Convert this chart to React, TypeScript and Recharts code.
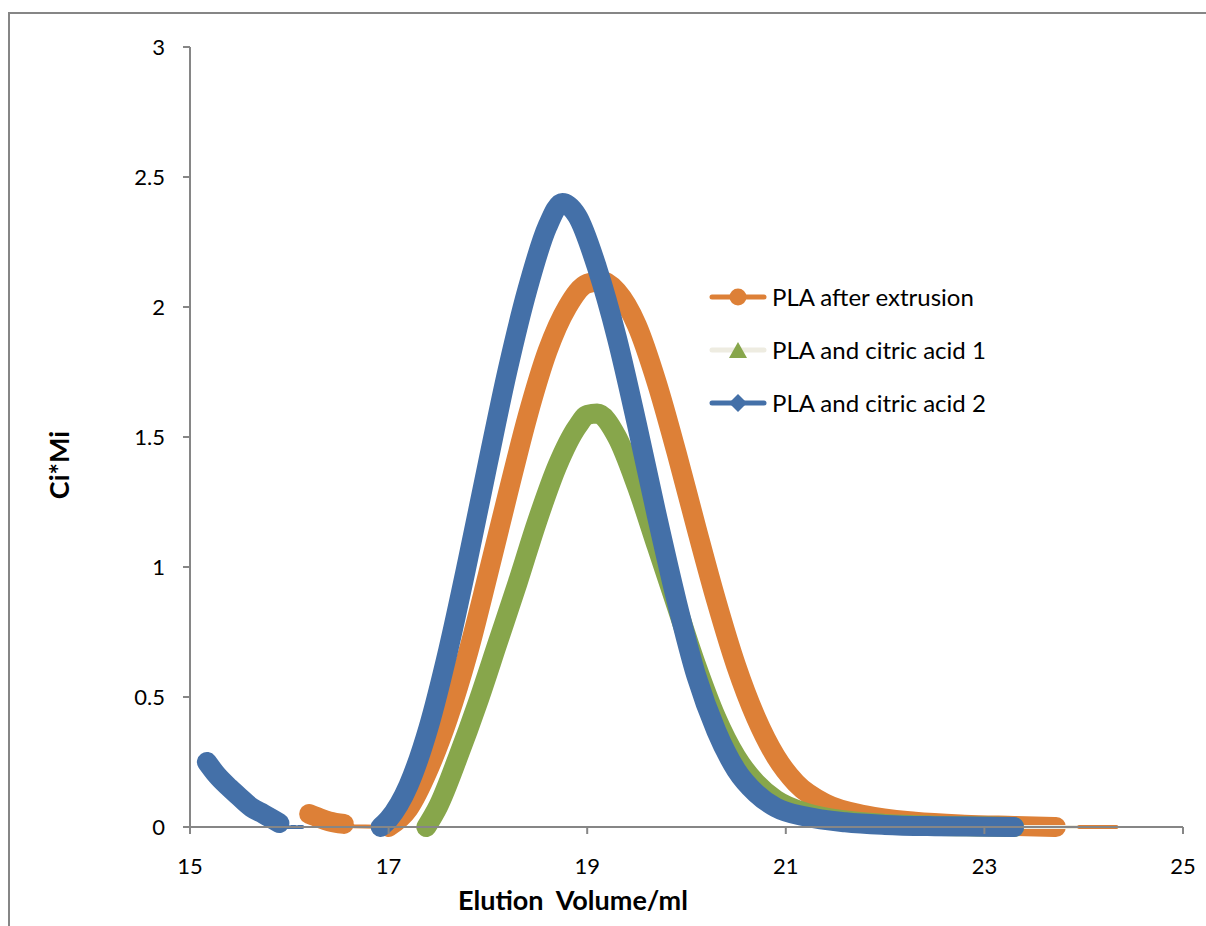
import { LineChart, Line, XAxis, YAxis } from 'recharts';

// elution volume (ml) / Ci*Mi readings
const orangeLow = [
  { x: 16.2, y: 0.05 }, { x: 16.3, y: 0.035 }, { x: 16.4, y: 0.022 }, { x: 16.55, y: 0.012 },
];
const orangeMain = [
  { x: 17.0, y: 0.0 }, { x: 17.2, y: 0.07 }, { x: 17.4, y: 0.22 }, { x: 17.6, y: 0.42 },
  { x: 17.8, y: 0.67 }, { x: 18.0, y: 0.97 }, { x: 18.2, y: 1.28 }, { x: 18.4, y: 1.58 },
  { x: 18.6, y: 1.83 }, { x: 18.8, y: 2.0 }, { x: 19.0, y: 2.09 }, { x: 19.15, y: 2.1 },
  { x: 19.3, y: 2.06 }, { x: 19.5, y: 1.93 }, { x: 19.7, y: 1.71 }, { x: 19.9, y: 1.44 },
  { x: 20.1, y: 1.15 }, { x: 20.3, y: 0.87 }, { x: 20.5, y: 0.62 }, { x: 20.7, y: 0.42 },
  { x: 20.9, y: 0.27 }, { x: 21.1, y: 0.17 }, { x: 21.4, y: 0.09 }, { x: 21.8, y: 0.045 },
  { x: 22.3, y: 0.02 }, { x: 22.8, y: 0.009 }, { x: 23.3, y: 0.004 }, { x: 23.72, y: 0.0 },
];
const orangeGap = [{ x: 16.55, y: 0.012 }, { x: 16.65, y: 0.003 }, { x: 17.0, y: 0.0 }];
const orangeTail = [{ x: 23.7, y: 0.0 }, { x: 24.33, y: 0.0 }];
const greenMain = [
  { x: 17.38, y: 0.0 }, { x: 17.5, y: 0.08 }, { x: 17.7, y: 0.27 }, { x: 17.9, y: 0.48 },
  { x: 18.1, y: 0.71 }, { x: 18.3, y: 0.94 }, { x: 18.5, y: 1.18 }, { x: 18.7, y: 1.39 },
  { x: 18.9, y: 1.54 }, { x: 19.0, y: 1.585 }, { x: 19.1, y: 1.59 }, { x: 19.3, y: 1.5 },
  { x: 19.5, y: 1.31 }, { x: 19.7, y: 1.08 }, { x: 19.9, y: 0.85 }, { x: 20.1, y: 0.62 },
  { x: 20.3, y: 0.42 }, { x: 20.5, y: 0.27 }, { x: 20.7, y: 0.17 }, { x: 20.9, y: 0.105 },
  { x: 21.2, y: 0.055 }, { x: 21.6, y: 0.025 }, { x: 22.0, y: 0.012 }, { x: 22.5, y: 0.005 },
  { x: 23.0, y: 0.002 }, { x: 23.3, y: 0.0 },
];
const greenTail = [{ x: 23.2, y: 0.0 }, { x: 23.93, y: 0.0 }];
const blueLow = [
  { x: 15.17, y: 0.25 }, { x: 15.27, y: 0.2 }, { x: 15.4, y: 0.15 }, { x: 15.5, y: 0.115 },
  { x: 15.62, y: 0.075 }, { x: 15.74, y: 0.05 }, { x: 15.9, y: 0.015 },
];
const blueDash = [{ x: 15.95, y: 0.0 }, { x: 16.15, y: 0.0 }];
const blueMain = [
  { x: 16.92, y: 0.0 }, { x: 17.0, y: 0.03 }, { x: 17.2, y: 0.16 }, { x: 17.4, y: 0.38 },
  { x: 17.6, y: 0.68 }, { x: 17.8, y: 1.03 }, { x: 18.0, y: 1.4 }, { x: 18.2, y: 1.76 },
  { x: 18.4, y: 2.07 }, { x: 18.6, y: 2.31 }, { x: 18.75, y: 2.4 }, { x: 18.9, y: 2.35 },
  { x: 19.1, y: 2.15 }, { x: 19.3, y: 1.88 }, { x: 19.5, y: 1.55 }, { x: 19.7, y: 1.2 },
  { x: 19.9, y: 0.87 }, { x: 20.1, y: 0.58 }, { x: 20.3, y: 0.37 }, { x: 20.5, y: 0.22 },
  { x: 20.7, y: 0.13 }, { x: 20.9, y: 0.075 }, { x: 21.2, y: 0.04 }, { x: 21.6, y: 0.018 },
  { x: 22.0, y: 0.008 }, { x: 22.5, y: 0.003 }, { x: 23.0, y: 0.001 }, { x: 23.3, y: 0.0 },
];

const xTicks = [15, 17, 19, 21, 23, 25];
const yTicks = [0, 0.5, 1, 1.5, 2, 2.5, 3];
const seriesNames = ['PLA after extrusion', 'PLA and citric acid 1', 'PLA and citric acid 2'];

const ORANGE = '#DD8037';
const GREEN = '#87A64B';
const CREAM = '#EEECE1';
const BLUE = '#4470A8';
const AXIS = '#868686';
const FONT = 'Lato, "Open Sans", sans-serif';
const THICK = 20;

function thick(key: string, data: any[], color: string) {
  return (
    <Line key={key} data={data} dataKey="y" type="monotone" stroke={color} strokeWidth={THICK}
      strokeLinecap="round" strokeLinejoin="round" dot={false} activeDot={false}
      isAnimationActive={false} legendType="none" />
  );
}

function thin(key: string, data: any[], color: string, dash?: string) {
  return (
    <Line key={key} data={data} dataKey="y" type="linear" stroke={color} strokeWidth={4}
      strokeLinecap="round" strokeDasharray={dash} dot={false} activeDot={false}
      isAnimationActive={false} legendType="none" />
  );
}

function LegendRow({ label, color, line, marker }: { label: string; color: string; line: string; marker: 'circle' | 'triangle' | 'diamond' }) {
  return (
    <div style={{ display: 'flex', alignItems: 'center', height: 53 }}>
      <svg width={58} height={24} style={{ marginRight: 5 }}>
        <line x1={3} y1={12} x2={55} y2={12} stroke={line} strokeWidth={5} strokeLinecap="round" />
        {marker === 'circle' && <circle cx={29} cy={12} r={8.5} fill={color} />}
        {marker === 'triangle' && <polygon points="20,20 38,20 29,4" fill={color} />}
        {marker === 'diamond' && <polygon points="29,3 38,12 29,21 20,12" fill={color} />}
      </svg>
      <span style={{ fontSize: 24, color: '#000' }}>{label}</span>
    </div>
  );
}

export default function App() {
  return (
    <div style={{ position: 'fixed', left: 0, top: 0, width: 1206, height: 926, overflow: 'hidden', background: '#fff', fontFamily: FONT }}>
      <div style={{ position: 'absolute', left: 8, top: 12, width: 1300, height: 1000, border: `2px solid ${AXIS}` }} />
      <div style={{ position: 'absolute', left: 0, top: 0 }}>
        <LineChart width={1206} height={926} margin={{ top: 47, right: 23, bottom: 69, left: 0 }}>
          <XAxis key="x" type="number" dataKey="x" domain={[15, 25]} ticks={xTicks} allowDataOverflow
            stroke={AXIS} strokeWidth={2} tickSize={7} tickMargin={24} height={30}
            tick={{ fill: '#000', fontSize: 22, fontFamily: FONT }} />
          <YAxis key="y" type="number" domain={[0, 3]} ticks={yTicks} width={190}
            stroke={AXIS} strokeWidth={2} tickSize={7} tickMargin={18}
            tick={{ fill: '#000', fontSize: 22, fontFamily: FONT }} />
          {thick('o1', orangeLow, ORANGE)}
          {thin('o0', orangeGap, ORANGE)}
          {thin('o3', orangeTail, ORANGE)}
          {thick('o2', orangeMain, ORANGE)}
          {thick('g1', greenMain, GREEN)}
          {thin('g0', greenTail, CREAM)}
          {thick('b1', blueLow, BLUE)}
          {thin('b0', blueDash, BLUE, '4 3')}
          {thick('b2', blueMain, BLUE)}
        </LineChart>
      </div>
      <div style={{ position: 'absolute', left: 709, top: 270 }}>
        <LegendRow label={seriesNames[0]} color={ORANGE} line={ORANGE} marker="circle" />
        <LegendRow label={seriesNames[1]} color={GREEN} line={CREAM} marker="triangle" />
        <LegendRow label={seriesNames[2]} color={BLUE} line={BLUE} marker="diamond" />
      </div>
      <div style={{ position: 'absolute', left: 373, width: 400, top: 883, textAlign: 'center', fontWeight: 'bold', fontSize: 27, whiteSpace: 'pre' }}>
        {'Elution  Volume/ml'}
      </div>
      <div style={{ position: 'absolute', left: 58, top: 465, transform: 'translate(-50%, -50%) rotate(-90deg)', fontWeight: 'bold', fontSize: 27, whiteSpace: 'nowrap' }}>
        Ci*Mi
      </div>
    </div>
  );
}
